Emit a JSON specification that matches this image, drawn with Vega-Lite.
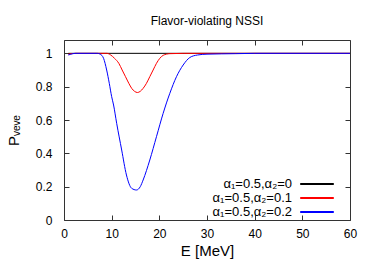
{
  "$schema": "https://vega.github.io/schema/vega-lite/v6.json",
  "autosize": {"type": "none"},
  "padding": {"left": 64, "top": 40, "right": 24, "bottom": 42},
  "width": 286,
  "height": 180,
  "background": "white",
  "title": {"text": "Flavor-violating NSSI", "fontSize": 12, "font": "Liberation Sans", "fontWeight": "normal", "offset": 12, "color": "#000"},
  "config": {
    "font": "Liberation Sans",
    "view": {"stroke": "#333", "strokeWidth": 1},
    "axis": {"domain": false, "grid": false, "tickColor": "#333", "labelColor": "#000", "titleColor": "#000", "labelFontSize": 12, "titleFontWeight": "normal", "labelFlush": false, "offset": -5, "tickSize": 5},
    "legend": {"orient": "none", "legendX": 246, "legendY": 137, "symbolType": "M-2.8,0H2.8", "symbolSize": 144, "symbolStrokeWidth": 2, "symbolOpacity": 1, "labelAlign": "right", "labelOffset": -32, "labelFontSize": 13, "rowPadding": 0, "labelColor": "#000", "title": null}
  },
  "data": {"values": [
    {"s": "α₁=0.5,α₂=0", "E": 0.9, "P": 1.0},
    {"s": "α₁=0.5,α₂=0", "E": 60, "P": 1.0},
    {"s": "α₁=0.5,α₂=0.1", "E": 0.9, "P": 0.995},
    {"s": "α₁=0.5,α₂=0.1", "E": 2.5, "P": 1.0},
    {"s": "α₁=0.5,α₂=0.1", "E": 9.0, "P": 1.0},
    {"s": "α₁=0.5,α₂=0.1", "E": 9.8, "P": 0.99},
    {"s": "α₁=0.5,α₂=0.1", "E": 10.6, "P": 0.97},
    {"s": "α₁=0.5,α₂=0.1", "E": 11.5, "P": 0.94},
    {"s": "α₁=0.5,α₂=0.1", "E": 12.2, "P": 0.9},
    {"s": "α₁=0.5,α₂=0.1", "E": 12.9, "P": 0.86},
    {"s": "α₁=0.5,α₂=0.1", "E": 13.6, "P": 0.82},
    {"s": "α₁=0.5,α₂=0.1", "E": 14.2, "P": 0.79},
    {"s": "α₁=0.5,α₂=0.1", "E": 14.8, "P": 0.772},
    {"s": "α₁=0.5,α₂=0.1", "E": 15.4, "P": 0.765},
    {"s": "α₁=0.5,α₂=0.1", "E": 16.0, "P": 0.772},
    {"s": "α₁=0.5,α₂=0.1", "E": 16.6, "P": 0.79},
    {"s": "α₁=0.5,α₂=0.1", "E": 17.3, "P": 0.82},
    {"s": "α₁=0.5,α₂=0.1", "E": 18.0, "P": 0.86},
    {"s": "α₁=0.5,α₂=0.1", "E": 18.7, "P": 0.9},
    {"s": "α₁=0.5,α₂=0.1", "E": 19.4, "P": 0.94},
    {"s": "α₁=0.5,α₂=0.1", "E": 20.1, "P": 0.97},
    {"s": "α₁=0.5,α₂=0.1", "E": 20.8, "P": 0.988},
    {"s": "α₁=0.5,α₂=0.1", "E": 22.2, "P": 0.998},
    {"s": "α₁=0.5,α₂=0.1", "E": 25, "P": 1.0},
    {"s": "α₁=0.5,α₂=0.1", "E": 60, "P": 1.0},
    {"s": "α₁=0.5,α₂=0.2", "E": 0.9, "P": 0.99},
    {"s": "α₁=0.5,α₂=0.2", "E": 2.5, "P": 1.0},
    {"s": "α₁=0.5,α₂=0.2", "E": 7.0, "P": 1.0},
    {"s": "α₁=0.5,α₂=0.2", "E": 7.6, "P": 0.995},
    {"s": "α₁=0.5,α₂=0.2", "E": 8.3, "P": 0.97},
    {"s": "α₁=0.5,α₂=0.2", "E": 8.95, "P": 0.9},
    {"s": "α₁=0.5,α₂=0.2", "E": 9.5, "P": 0.82},
    {"s": "α₁=0.5,α₂=0.2", "E": 10.0, "P": 0.74},
    {"s": "α₁=0.5,α₂=0.2", "E": 10.4, "P": 0.69},
    {"s": "α₁=0.5,α₂=0.2", "E": 11.05, "P": 0.58},
    {"s": "α₁=0.5,α₂=0.2", "E": 12.1, "P": 0.42},
    {"s": "α₁=0.5,α₂=0.2", "E": 13.1, "P": 0.27},
    {"s": "α₁=0.5,α₂=0.2", "E": 14.2, "P": 0.19},
    {"s": "α₁=0.5,α₂=0.2", "E": 15.2, "P": 0.18},
    {"s": "α₁=0.5,α₂=0.2", "E": 16.0, "P": 0.2},
    {"s": "α₁=0.5,α₂=0.2", "E": 16.6, "P": 0.24},
    {"s": "α₁=0.5,α₂=0.2", "E": 18.0, "P": 0.36},
    {"s": "α₁=0.5,α₂=0.2", "E": 19.4, "P": 0.5},
    {"s": "α₁=0.5,α₂=0.2", "E": 20.8, "P": 0.64},
    {"s": "α₁=0.5,α₂=0.2", "E": 22.2, "P": 0.76},
    {"s": "α₁=0.5,α₂=0.2", "E": 23.6, "P": 0.86},
    {"s": "α₁=0.5,α₂=0.2", "E": 25.0, "P": 0.93},
    {"s": "α₁=0.5,α₂=0.2", "E": 26.4, "P": 0.975},
    {"s": "α₁=0.5,α₂=0.2", "E": 28, "P": 0.99},
    {"s": "α₁=0.5,α₂=0.2", "E": 30, "P": 0.995},
    {"s": "α₁=0.5,α₂=0.2", "E": 36, "P": 0.998},
    {"s": "α₁=0.5,α₂=0.2", "E": 40, "P": 1.0},
    {"s": "α₁=0.5,α₂=0.2", "E": 60, "P": 1.0}
  ]},
  "layer": [
    {
      "mark": {"type": "line", "strokeWidth": 1, "interpolate": "monotone"},
      "encoding": {
        "x": {"field": "E", "type": "quantitative", "scale": {"domain": [0, 60], "nice": false},
              "axis": {"values": [0, 10, 20, 30, 40, 50, 60], "labelPadding": 8, "title": "E [MeV]", "titleFontSize": 15, "titlePadding": 4}},
        "y": {"field": "P", "type": "quantitative", "scale": {"domain": [0, 1.08], "nice": false, "zero": false},
              "axis": {"values": [0, 0.2, 0.4, 0.6, 0.8, 1], "format": ".1~f", "labelPadding": 12, "title": "Pᵥₑᵥₑ", "titleFontSize": 15, "titlePadding": 14}},
        "color": {"field": "s", "type": "nominal",
                  "scale": {"domain": ["α₁=0.5,α₂=0", "α₁=0.5,α₂=0.1", "α₁=0.5,α₂=0.2"], "range": ["#000000", "#ff0000", "#0000ff"]}}
      }
    },
    {
      "mark": {"type": "line", "strokeOpacity": 0, "strokeWidth": 0},
      "encoding": {
        "x": {"field": "E", "type": "quantitative", "scale": {"domain": [0, 60], "nice": false},
              "axis": {"orient": "top", "values": [0, 10, 20, 30, 40, 50, 60], "labels": false, "title": null}},
        "y": {"field": "P", "type": "quantitative", "scale": {"domain": [0, 1.08], "nice": false, "zero": false},
              "axis": {"orient": "right", "values": [0, 0.2, 0.4, 0.6, 0.8, 1], "labels": false, "title": null}},
        "detail": {"field": "s"}
      }
    }
  ],
  "resolve": {"axis": {"x": "independent", "y": "independent"}}
}
